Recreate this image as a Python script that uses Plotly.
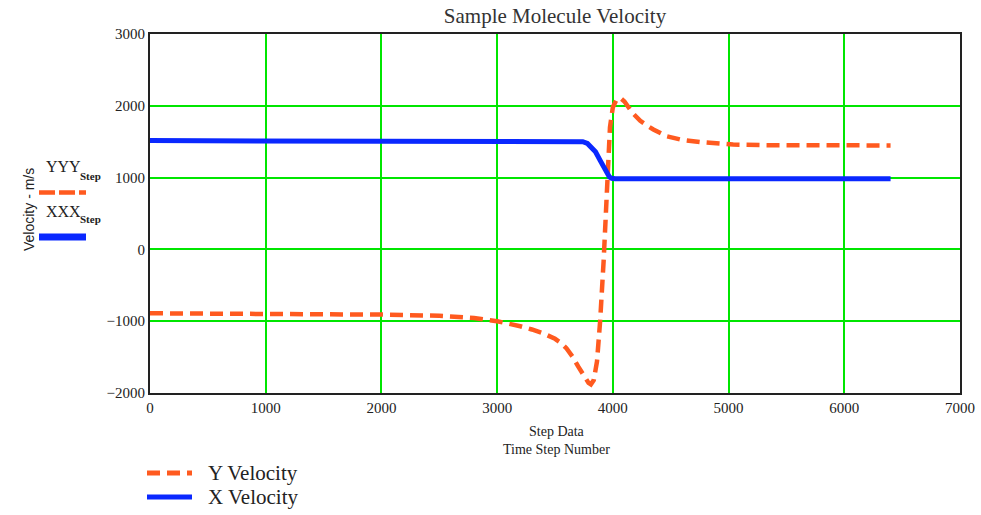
import plotly.graph_objects as go

# ---- data ----
step_y = [0, 500, 1000, 1500, 2000, 2500, 2800, 3000, 3100, 3200, 3300, 3400, 3500, 3550,
          3600, 3650, 3700, 3750, 3790, 3810, 3835, 3863, 3890, 3920, 3950, 3975, 4000,
          4030, 4064, 4100, 4170, 4237, 4300, 4350, 4467, 4600, 4754, 4900, 5040, 5300,
          5600, 6000, 6400]
yyy = [-890, -892, -895, -900, -908, -925, -955, -1000, -1030, -1070, -1115, -1170, -1245, -1300,
       -1380, -1490, -1630, -1770, -1860, -1880, -1820, -1560, -1000, -170, 1000, 1700, 1980,
       2080, 2110, 2060, 1900, 1790, 1720, 1670, 1575, 1525, 1495, 1475, 1460, 1452,
       1450, 1448, 1448]

step_x = [0, 1000, 2000, 3000, 3650, 3700, 3740, 3780, 3820, 3850, 3890, 3920, 3950, 3970,
          3990, 4020, 5000, 6000, 6400]
xxx = [1515, 1515, 1515, 1515, 1515, 1512, 1500, 1475, 1420, 1360, 1240, 1140, 1055, 1010,
       990, 985, 985, 985, 985]

x_ticks = [0, 1000, 2000, 3000, 4000, 5000, 6000, 7000]
y_ticks = [-2000, -1000, 0, 1000, 2000, 3000]

ORANGE = "#FF5A1F"
BLUE = "#0A28FF"
GREEN = "#00E600"
SERIF = "Liberation Serif"

# plot area in pixels (for decorations only)
L, R, T, B = 150, 960, 34, 393
W, H = R - L, B - T


def px(xp):
    return (xp - L) / W


def py(yp):
    return (B - yp) / H


fig = go.Figure()
fig.add_trace(go.Scatter(x=step_y, y=yyy, mode="lines", name="Y Velocity", showlegend=False,
                         line=dict(color=ORANGE, width=4.5, dash="13px,7px")))
fig.add_trace(go.Scatter(x=step_x, y=xxx, mode="lines", name="X Velocity", showlegend=False,
                         line=dict(color=BLUE, width=5)))

fig.update_layout(
    width=981, height=515,
    margin=dict(l=L, r=981 - R, t=T, b=515 - B, autoexpand=False),
    paper_bgcolor="white", plot_bgcolor="white",
    font=dict(family=SERIF, color="#222", size=14),
    title=dict(text="Sample Molecule Velocity", x=555 / 981, xanchor="center",
               y=1 - 16 / 515, yanchor="middle", font=dict(size=21, family=SERIF, color="#333")),
    xaxis=dict(range=[0, 7000], tickvals=x_ticks, showgrid=True, gridcolor=GREEN, gridwidth=1.5,
               zeroline=False, showline=True, linecolor="#222", linewidth=2, mirror=True,
               ticks="", tickfont=dict(size=15, family=SERIF)),
    yaxis=dict(range=[-2000, 3000], tickvals=y_ticks, showgrid=True, gridcolor=GREEN, gridwidth=1.5,
               zeroline=False, showline=True, linecolor="#222", linewidth=2, mirror=True,
               ticks="", tickfont=dict(size=15, family=SERIF)),
    showlegend=False,
)

# x axis title (two lines)
fig.add_annotation(text="Step Data<br>Time Step Number", xref="paper", yref="paper",
                   x=px(556), y=py(440), showarrow=False, yanchor="middle",
                   font=dict(family=SERIF, size=14, color="#222"))

# y axis title
fig.add_annotation(text="Velocity - m/s", textangle=-90, xref="paper", yref="paper",
                   x=px(19), y=py(210), showarrow=False,
                   font=dict(family="Liberation Sans", size=14, color="#222"))

# left-side legend (math-style labels)
for base, yb, ys in [("YYY", 167, 176), ("XXX", 212, 219)]:
    fig.add_annotation(text=base, xref="paper", yref="paper",
                       x=px(44), y=py(yb), xanchor="left", yanchor="middle", showarrow=False,
                       font=dict(family=SERIF, size=16, color="#222"))
    fig.add_annotation(text="<b>Step</b>", xref="paper", yref="paper",
                       x=px(78), y=py(ys), xanchor="left", yanchor="middle", showarrow=False,
                       font=dict(family=SERIF, size=11, color="#222"))
fig.add_shape(type="line", xref="paper", yref="paper", x0=px(39), x1=px(86),
              y0=py(192.5), y1=py(192.5), line=dict(color=ORANGE, width=4.5, dash="16px,4px"))
fig.add_shape(type="line", xref="paper", yref="paper", x0=px(39), x1=px(86),
              y0=py(237), y1=py(237), line=dict(color=BLUE, width=7))

# bottom legend
for name, color, dash, ypix in [("Y Velocity", ORANGE, "13px,7px", 473),
                                 ("X Velocity", BLUE, "solid", 497)]:
    fig.add_shape(type="line", xref="paper", yref="paper", x0=px(147), x1=px(192),
                  y0=py(ypix), y1=py(ypix), line=dict(color=color, width=5, dash=dash))
    fig.add_annotation(text=name, xref="paper", yref="paper", x=px(206), y=py(ypix),
                       xanchor="left", yanchor="middle", showarrow=False,
                       font=dict(family=SERIF, size=21, color="#222"))

fig.write_html("out.html")
